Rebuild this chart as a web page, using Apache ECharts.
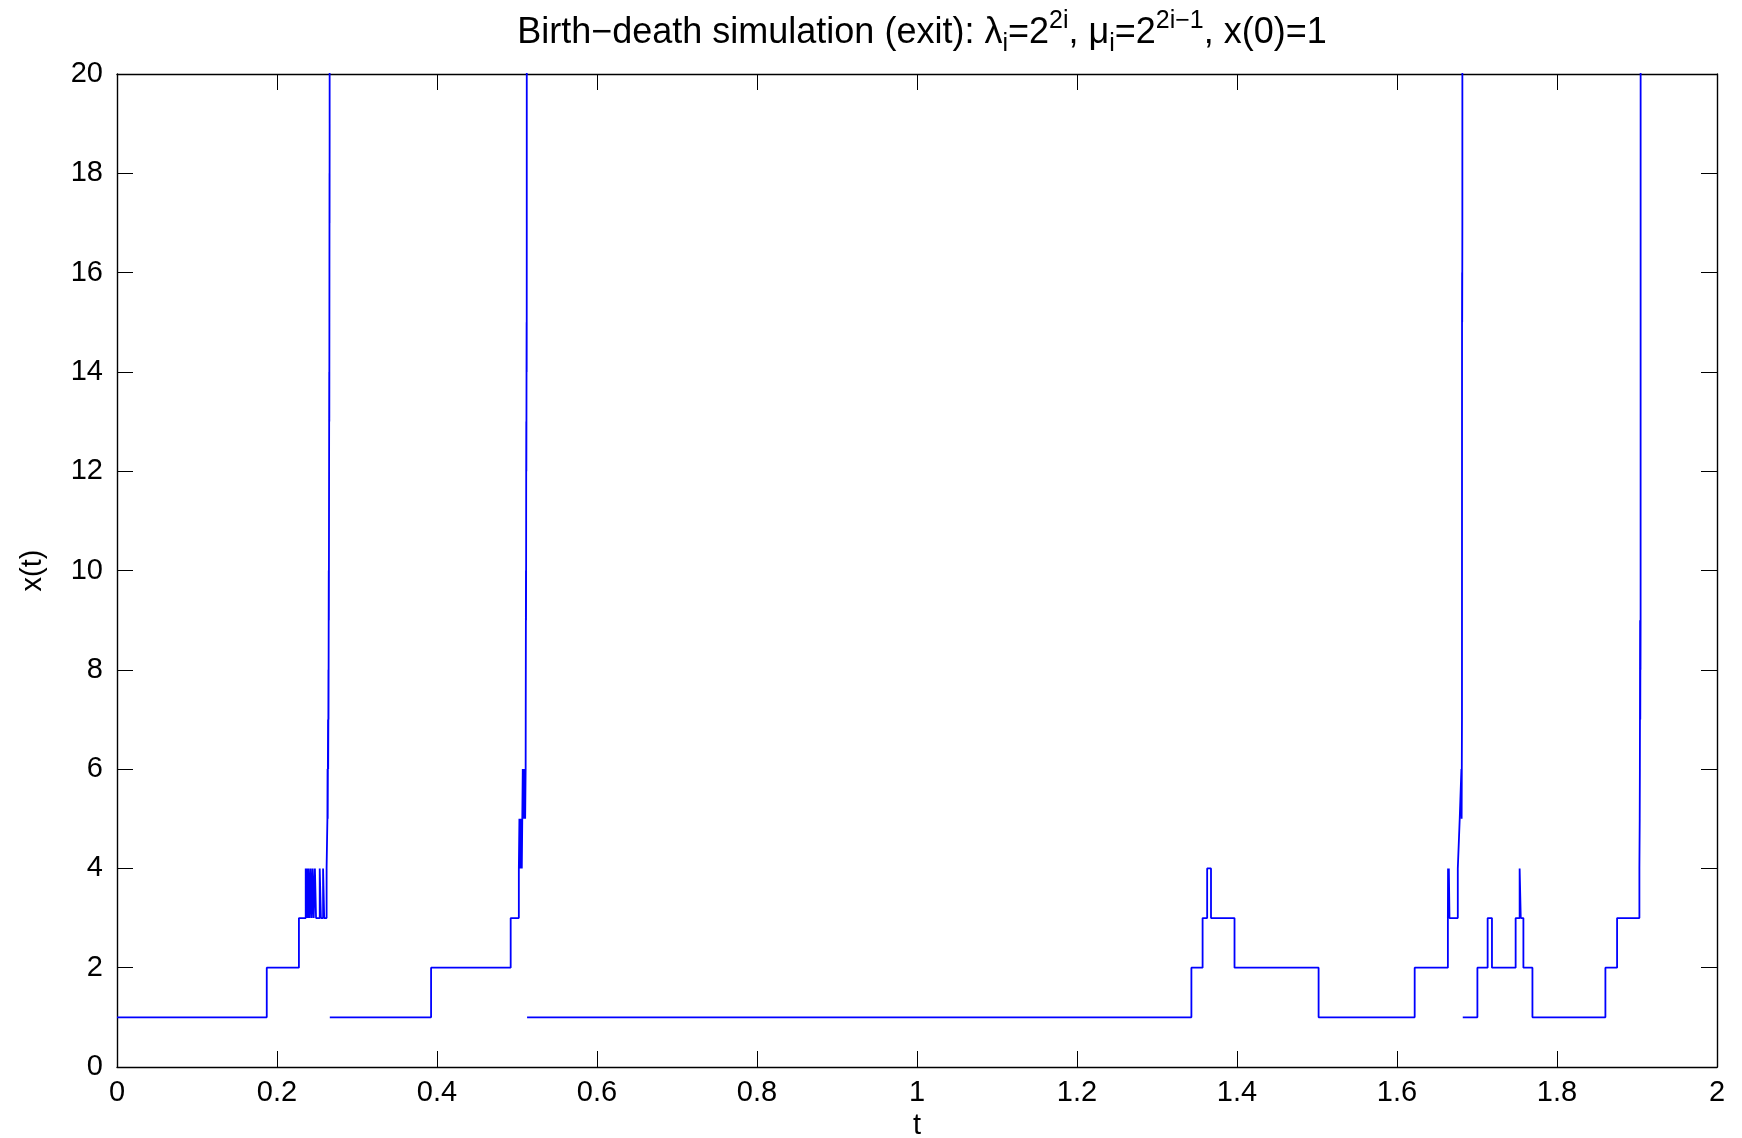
<!DOCTYPE html>
<html>
<head>
<meta charset="utf-8">
<script src="https://cdn.jsdelivr.net/npm/echarts@6/dist/echarts.min.js"></script>
<style>
html,body{margin:0;padding:0;background:#fff;}
#chart{width:1742px;height:1138px;}
</style>
</head>
<body>
<div id="chart"></div>
<script>
// Jump times (t) and states x(t) after each jump, one pair of arrays per run
// (each run ends in an explosion to infinity, then the process restarts at x=1)
const run1T = [0, 0.1872, 0.2274, 0.2359, 0.2369, 0.2378, 0.2388, 0.2397, 0.2409, 0.2422, 0.2434, 0.2447, 0.2459, 0.2474, 0.2488, 0.2534, 0.2549, 0.2576, 0.2590, 0.2620,
  0.2630, 0.2632, 0.2634, 0.2636, 0.2638, 0.2640, 0.2642, 0.2643, 0.2644, 0.2645, 0.2646, 0.2647, 0.2648, 0.2649, 0.2650,
  0.2651, 0.2652, 0.2653, 0.2654, 0.26545, 0.2655, 0.26555, 0.2656, 0.26565, 0.2657, 0.26575, 0.2658, 0.2659];
const run1X = [1, 2, 3, 4, 3, 4, 3, 4, 3, 4, 3, 4, 3, 4, 3, 4, 3, 4, 3, 4,
  5, 6, 5, 6, 7, 6, 7, 8, 7, 8, 9, 10, 9, 10, 11,
  12, 13, 14, 13, 14, 15, 16, 17, 18, 17, 18, 19, 40];

const run2T = [0.2660, 0.3926, 0.4921, 0.5023, 0.5030, 0.5036, 0.5042, 0.5048, 0.5054, 0.5060, 0.5066, 0.5072, 0.5078, 0.5084, 0.5090, 0.5096, 0.5102, 0.5108,
  0.5109, 0.5110, 0.5111, 0.5112, 0.5113, 0.5114, 0.51145, 0.5115, 0.5116, 0.5117, 0.5118, 0.5119, 0.5120, 0.5121, 0.51215, 0.5122, 0.51225];
const run2X = [1, 2, 3, 4, 5, 4, 5, 4, 5, 4, 5, 6, 5, 6, 5, 6, 5, 6,
  7, 8, 9, 10, 9, 10, 11, 12, 13, 12, 13, 14, 15, 14, 15, 17, 40];

const run3T = [0.5126, 1.3430, 1.3570, 1.3627, 1.3675, 1.3969, 1.5020, 1.6221, 1.6636, 1.6638, 1.6645, 1.6648, 1.6656, 1.6760, 1.6784, 1.6805,
  1.6808, 1.6810, 1.6812, 1.6813, 1.6814, 1.6815, 1.6816, 1.6817, 1.6818];
const run3X = [1, 2, 3, 4, 3, 2, 1, 2, 3, 4, 3, 4, 3, 4, 5, 6,
  5, 6, 7, 15, 16, 15, 16, 17, 40];

const run4T = [1.6822, 1.7005, 1.7133, 1.7187, 1.7483, 1.7533, 1.7547, 1.7580, 1.7693, 1.8605, 1.8751, 1.9030, 1.9034, 1.9036,
  1.9037, 1.9038, 1.9039, 1.9040, 1.9041, 1.9042, 1.9043, 1.9044, 1.9045, 1.9046];
const run4X = [1, 2, 3, 2, 3, 4, 3, 2, 1, 2, 3, 4, 5, 6,
  7, 8, 9, 8, 7, 8, 9, 8, 9, 40];

const xTickLabels = ['0', '0.2', '0.4', '0.6', '0.8', '1', '1.2', '1.4', '1.6', '1.8', '2'];
const yTickLabels = ['0', '2', '4', '6', '8', '10', '12', '14', '16', '18', '20'];

const FONT = 'Liberation Sans';
function pairs(ts, xs) { return ts.map((t, i) => [t, xs[i]]); }
const runs = [[run1T, run1X], [run2T, run2X], [run3T, run3X], [run4T, run4X]];

const chart = echarts.init(document.getElementById('chart'), null, {renderer: 'canvas'});
const axisLine = {show: true, onZero: false, lineStyle: {color: '#000', width: 1.4}};
const tick = {show: true, inside: true, length: 16, lineStyle: {color: '#000', width: 1}};

chart.setOption({
  animation: false,
  backgroundColor: '#fff',
  title: {
    text: '{n|Birth−death simulation (exit): λ}{sub|i}{n|=2}{sup|2i}{n|, μ}{sub|i}{n|=2}{sup|2i−1}{n|, x(0)=1}',
    left: 917, top: 4, textAlign: 'center',
    textStyle: {
      fontWeight: 'normal',
      rich: {
        n: {fontFamily: FONT, fontSize: 36, fontWeight: 'normal', color: '#000', lineHeight: 48, verticalAlign: 'middle'},
        sub: {fontFamily: FONT, fontSize: 25, fontWeight: 'normal', color: '#000', lineHeight: 28, verticalAlign: 'bottom'},
        sup: {fontFamily: FONT, fontSize: 25, fontWeight: 'normal', color: '#000', lineHeight: 28, verticalAlign: 'top'}
      }
    }
  },
  grid: {left: 117, right: 25, top: 74, bottom: 71, containLabel: false, outerBoundsMode: 'none'},
  xAxis: [{
    type: 'value', min: 0, max: 2, interval: 0.2, position: 'bottom',
    axisLine: axisLine, axisTick: tick, splitLine: {show: false},
    axisLabel: {fontFamily: FONT, fontSize: 29, color: '#000', margin: 11,
      formatter: (v) => xTickLabels[Math.round(v / 0.2)]},
    name: 't', nameLocation: 'middle', nameGap: 44,
    nameTextStyle: {fontFamily: FONT, fontSize: 29, color: '#000'}
  }, {
    type: 'value', min: 0, max: 2, interval: 0.2, position: 'top',
    axisLine: axisLine, axisTick: tick, splitLine: {show: false}, axisLabel: {show: false}
  }],
  yAxis: [{
    type: 'value', min: 0, max: 20, interval: 2, position: 'left',
    axisLine: axisLine, axisTick: tick, splitLine: {show: false},
    axisLabel: {fontFamily: FONT, fontSize: 29, color: '#000', margin: 14,
      formatter: (v) => yTickLabels[Math.round(v / 2)]},
    name: 'x(t)', nameLocation: 'middle', nameGap: 70, nameRotate: 90,
    nameTextStyle: {fontFamily: FONT, fontSize: 29, color: '#000'}
  }, {
    type: 'value', min: 0, max: 20, interval: 2, position: 'right',
    axisLine: axisLine, axisTick: tick, splitLine: {show: false}, axisLabel: {show: false}
  }],
  series: runs.map(([ts, xs]) => ({
    type: 'line', step: 'end', xAxisIndex: 0, yAxisIndex: 0,
    data: pairs(ts, xs), showSymbol: false, symbol: 'none', clip: true,
    lineStyle: {color: '#0000ff', width: 1.8}, itemStyle: {color: '#0000ff'}
  }))
});
</script>
</body>
</html>
